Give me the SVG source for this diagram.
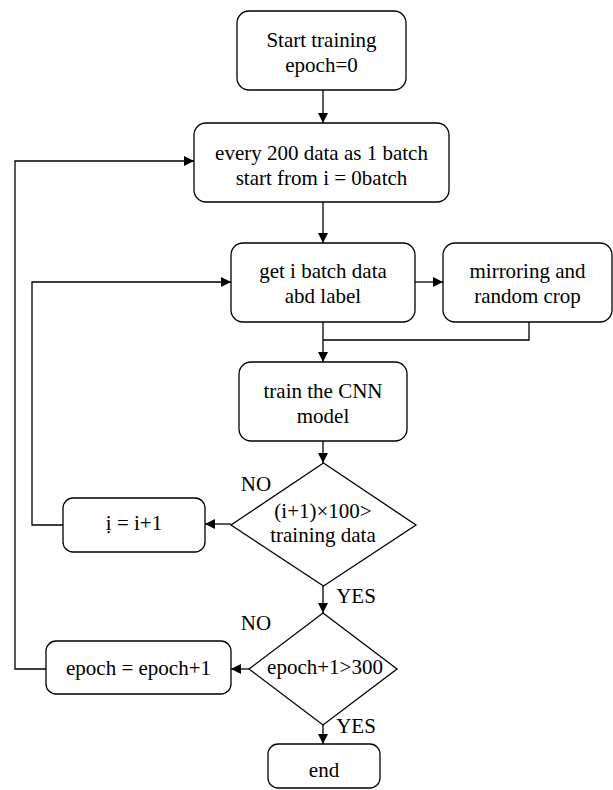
<svg xmlns="http://www.w3.org/2000/svg" width="613" height="790" viewBox="0 0 613 790">
<style>
.box{fill:#fff;stroke:#000;stroke-width:1.3}
.ln{fill:none;stroke:#000;stroke-width:1.3}
text{font-family:"Liberation Serif","Times New Roman",serif;font-size:21px;fill:#000;text-anchor:middle}
</style>
<defs>
<marker id="ah" viewBox="0 0 10 10" refX="10" refY="5" markerWidth="10" markerHeight="10" markerUnits="userSpaceOnUse" orient="auto">
<path d="M0,0 L10,5 L0,10 z" fill="#000"/>
</marker>
</defs>
<rect width="613" height="790" fill="#fff"/>
<g id="connectors">
<path class="ln" d="M323,90 V123" marker-end="url(#ah)"/>
<path class="ln" d="M323,202 V243" marker-end="url(#ah)"/>
<path class="ln" d="M415,282 H443" marker-end="url(#ah)"/>
<path class="ln" d="M323,322 V362" marker-end="url(#ah)"/>
<path class="ln" d="M529,322 V340 H323"/>
<path class="ln" d="M323,441 V463" marker-end="url(#ah)"/>
<path class="ln" d="M231,524 H205" marker-end="url(#ah)"/>
<path class="ln" d="M63,525 H32 V282 H231" marker-end="url(#ah)"/>
<path class="ln" d="M323,586 V613" marker-end="url(#ah)"/>
<path class="ln" d="M249,669 H231" marker-end="url(#ah)"/>
<path class="ln" d="M46,669 H15 V161 H194" marker-end="url(#ah)"/>
<path class="ln" d="M323,725 V744" marker-end="url(#ah)"/>
</g>
<g id="start">
<rect class="box" x="237" y="11" width="169" height="79" rx="12"/>
<text x="321.5" y="47">Start training</text>
<text x="321.5" y="72">epoch=0</text>
</g>
<g id="batch">
<rect class="box" x="194" y="123" width="255" height="79" rx="12"/>
<text x="321.5" y="160">every 200 data as 1 batch</text>
<text x="321.5" y="185">start from i = 0batch</text>
</g>
<g id="getdata">
<rect class="box" x="231" y="243" width="184" height="79" rx="12"/>
<text x="323" y="278">get i batch data</text>
<text x="323" y="303">abd label</text>
</g>
<g id="mirror">
<rect class="box" x="443" y="243" width="169" height="79" rx="12"/>
<text x="527.5" y="278">mirroring and</text>
<text x="527.5" y="303">random crop</text>
</g>
<g id="train">
<rect class="box" x="239" y="362" width="168" height="79" rx="12"/>
<text x="323" y="398">train the CNN</text>
<text x="323" y="423">model</text>
</g>
<g id="cond1">
<polygon class="box" points="323.5,463 416,525 323.5,586 231,525"/>
<text x="323" y="518">(i+1)×100&gt;</text>
<text x="323" y="542">training data</text>
<text x="256" y="491">NO</text>
<text x="356" y="603">YES</text>
</g>
<g id="incr">
<rect class="box" x="63" y="498" width="142" height="54" rx="10"/>
<text x="134" y="530">ị = i+1</text>
</g>
<g id="cond2">
<polygon class="box" points="323,613 397,669 323,725 249,669"/>
<text x="325" y="674">epoch+1&gt;300</text>
<text x="256" y="630">NO</text>
<text x="356" y="733">YES</text>
</g>
<g id="epochinc">
<rect class="box" x="46" y="641" width="185" height="53" rx="10"/>
<text x="138.5" y="675">epoch = epoch+1</text>
</g>
<g id="end">
<rect class="box" x="268" y="744" width="112" height="44" rx="10"/>
<text x="324" y="777">end</text>
</g>
</svg>
